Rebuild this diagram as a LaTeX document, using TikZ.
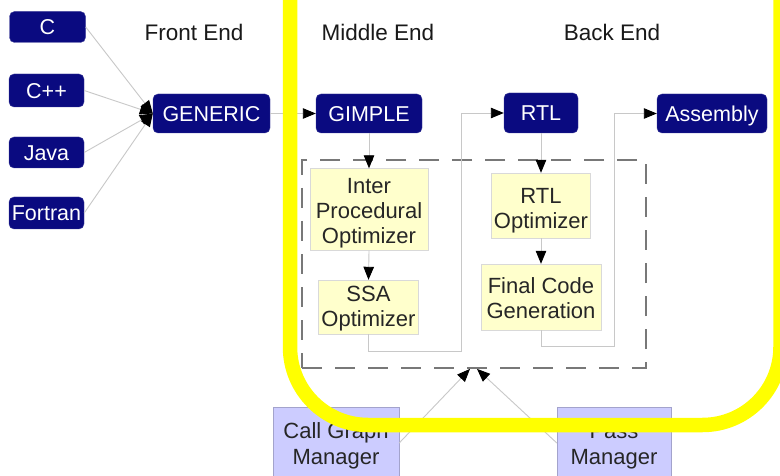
\documentclass[tikz,border=0pt]{standalone}
\usepackage{fontspec}
\setmainfont{Liberation Sans}
\usetikzlibrary{arrows.meta}
\definecolor{navybox}{RGB}{10,10,128}
\definecolor{paleyellow}{RGB}{255,255,204}
\definecolor{lavender}{RGB}{204,204,255}
\definecolor{linegray}{RGB}{200,200,200}
\definecolor{dashgray}{RGB}{120,120,120}
\definecolor{hiyellow}{RGB}{255,255,0}
\tikzset{
  lang/.style={draw=navybox!80!white, fill=navybox, rounded corners=5pt, text=white,
    font=\fontsize{21.5}{25}\selectfont, inner sep=0pt, text height=19pt, text depth=3.6pt},
  optbox/.style={draw=black!15, fill=paleyellow, text=black!85,
    font=\fontsize{22}{25}\selectfont, inner sep=0pt, align=center},
  mgrbox/.style={draw=lavender!80!black, fill=lavender, text=black!85,
    font=\fontsize{22}{25.5}\selectfont, inner sep=0pt, align=center},
  heading/.style={font=\fontsize{22.5}{27}\selectfont, text=black!90, inner sep=0pt},
  conn/.style={draw=linegray, line width=0.9pt, -{Triangle[length=13pt,width=10.5pt,black]}},
  stagebox/.style={draw=dashgray, line width=1.8pt, dash pattern=on 20pt off 13pt, inner sep=0pt},
}
\begin{document}
\begin{tikzpicture}[x=1pt,y=-1pt]
\fill[white] (0,0) rectangle (780,476);
\useasboundingbox (0,0) rectangle (780,476);

% headings
\node[heading] (hfe) at (194,32) {Front End};
\node[heading] (hme) at (378,32) {Middle End};
\node[heading] (hbe) at (612,32) {Back End};

% languages
\node[lang, minimum width=76pt, minimum height=31pt] (c) at (47.5,27) {C};
\node[lang, minimum width=75pt, minimum height=33pt] (cpp) at (46.5,90.5) {C++};
\node[lang, minimum width=75pt, minimum height=31pt] (java) at (46.5,152.5) {Java};
\node[lang, minimum width=75pt, minimum height=32pt] (fortran) at (46.5,213) {Fortran};

% IR nodes
\node[lang, minimum width=117pt, minimum height=39pt] (generic) at (211.5,113.5) {GENERIC};
\node[lang, minimum width=106pt, minimum height=39pt] (gimple) at (369,113.5) {GIMPLE};
\node[lang, minimum width=74pt, minimum height=40pt] (rtl) at (541,113) {RTL};
\node[lang, minimum width=110pt, minimum height=39pt] (asm) at (712,113.5) {Assembly};

% dashed stage box
\node[stagebox, minimum width=344pt, minimum height=208pt] (stage) at (474,264) {};

% optimizer boxes
\node[optbox, minimum width=118pt, minimum height=82pt] (ipo) at (369,209.5) {\rule{0pt}{22pt}Inter\\Procedural\\Optimizer};
\node[optbox, minimum width=100pt, minimum height=54pt] (ssa) at (368.5,307) {\rule{0pt}{18pt}SSA\\Optimizer};
\node[optbox, minimum width=99pt, minimum height=65pt] (rtlopt) at (541,205.5) {\rule{0pt}{25pt}RTL\\Optimizer};
\node[optbox, minimum width=120pt, minimum height=66pt] (fcg) at (541,297) {\rule{0pt}{18pt}Final Code\\Generation};

% managers
\node[mgrbox, minimum width=126pt, minimum height=78pt] (cgm) at (336,446) {Call Graph\\Manager};
\node[mgrbox, minimum width=114pt, minimum height=78pt] (pm) at (614,446) {Pass\\Manager};

% front-end connectors
\draw[conn] (c.east) -- (generic.west);
\draw[conn] (cpp.east) -- (generic.west);
\draw[conn] (java.east) -- (generic.west);
\draw[conn] (fortran.east) -- (generic.west);

% main flow
\draw[conn] (generic.east) -- (gimple.west);
\draw[conn] (gimple.south) -- (ipo.north);
\draw[conn] (ipo.south) -- (ssa.north);
\draw[conn] (ssa.south) -- ++(0,17) -| ([xshift=-42pt]rtl.west) -- (rtl.west);
\draw[conn] (rtl.south) -- (rtlopt.north);
\draw[conn] (rtlopt.south) -- (fcg.north);
\draw[conn] (fcg.south) -- ++(0,16) -| ([xshift=-42pt]asm.west) -- (asm.west);

% managers to stage box
\coordinate (t1) at ([xshift=-4pt]stage.south);
\coordinate (t2) at ([xshift=3pt]stage.south);
\draw[conn] ([yshift=3pt]cgm.east) -- (t1);
\draw[conn] ([yshift=3pt]pm.west) -- (t2);

% highlight
\draw[hiyellow, line width=14.5pt, rounded corners=78pt] (290,-120) rectangle (780.5,425);
\end{tikzpicture}
\end{document}
